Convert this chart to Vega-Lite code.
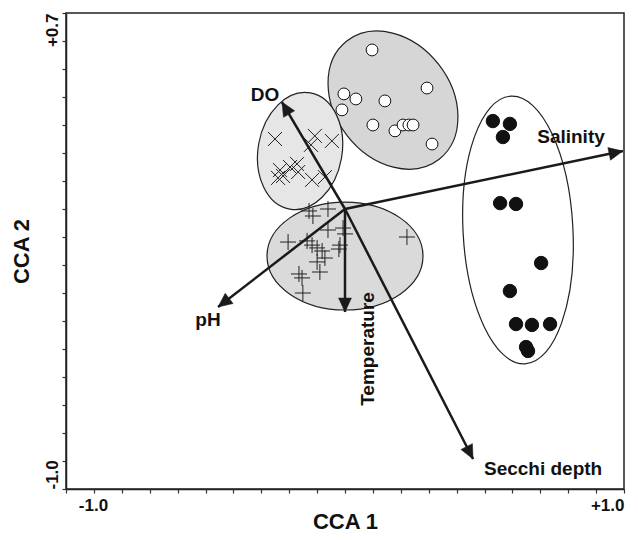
{
  "$schema": "https://vega.github.io/schema/vega-lite/v6.json",
  "width": 558,
  "height": 476,
  "autosize": "none",
  "padding": {"left": 66, "top": 13, "right": 14, "bottom": 51},
  "background": "white",
  "config": {"view": {"stroke": "#222", "strokeWidth": 1.5}, "font": "Liberation Sans"},
  "datasets": {
    "ellipses": [
      {"group": "A", "x": 0.172, "y": 0.389},
      {"group": "B", "x": -0.161, "y": 0.207},
      {"group": "C", "x": 0.0, "y": -0.168},
      {"group": "D", "x": 0.62, "y": -0.075}
    ],
    "sites": [
      {"group": "open", "x": 0.097, "y": 0.568},
      {"group": "open", "x": 0.294, "y": 0.432},
      {"group": "open", "x": -0.004, "y": 0.411},
      {"group": "open", "x": 0.039, "y": 0.393},
      {"group": "open", "x": 0.143, "y": 0.386},
      {"group": "open", "x": -0.011, "y": 0.354},
      {"group": "open", "x": 0.1, "y": 0.3},
      {"group": "open", "x": 0.179, "y": 0.279},
      {"group": "open", "x": 0.208, "y": 0.3},
      {"group": "open", "x": 0.229, "y": 0.3},
      {"group": "open", "x": 0.244, "y": 0.3},
      {"group": "open", "x": 0.312, "y": 0.232},
      {"group": "filled", "x": 0.53, "y": 0.314},
      {"group": "filled", "x": 0.591, "y": 0.304},
      {"group": "filled", "x": 0.566, "y": 0.257},
      {"group": "filled", "x": 0.556, "y": 0.021},
      {"group": "filled", "x": 0.613, "y": 0.018},
      {"group": "filled", "x": 0.703, "y": -0.193},
      {"group": "filled", "x": 0.591, "y": -0.293},
      {"group": "filled", "x": 0.613, "y": -0.411},
      {"group": "filled", "x": 0.67, "y": -0.414},
      {"group": "filled", "x": 0.735, "y": -0.411},
      {"group": "filled", "x": 0.649, "y": -0.493},
      {"group": "filled", "x": 0.656, "y": -0.507},
      {"group": "cross", "x": -0.251, "y": 0.25},
      {"group": "cross", "x": -0.108, "y": 0.261},
      {"group": "cross", "x": -0.122, "y": 0.229},
      {"group": "cross", "x": -0.047, "y": 0.243},
      {"group": "cross", "x": -0.233, "y": 0.139},
      {"group": "cross", "x": -0.197, "y": 0.15},
      {"group": "cross", "x": -0.172, "y": 0.161},
      {"group": "cross", "x": -0.168, "y": 0.132},
      {"group": "cross", "x": -0.24, "y": 0.111},
      {"group": "cross", "x": -0.222, "y": 0.118},
      {"group": "cross", "x": -0.118, "y": 0.104},
      {"group": "cross", "x": -0.072, "y": 0.114},
      {"group": "plus", "x": -0.129, "y": -0.007},
      {"group": "plus", "x": -0.061, "y": 0.0},
      {"group": "plus", "x": -0.115, "y": -0.025},
      {"group": "plus", "x": -0.061, "y": -0.075},
      {"group": "plus", "x": -0.007, "y": -0.068},
      {"group": "plus", "x": 0.0, "y": -0.089},
      {"group": "plus", "x": -0.204, "y": -0.118},
      {"group": "plus", "x": -0.136, "y": -0.114},
      {"group": "plus", "x": -0.118, "y": -0.129},
      {"group": "plus", "x": -0.1, "y": -0.139},
      {"group": "plus", "x": -0.082, "y": -0.15},
      {"group": "plus", "x": -0.072, "y": -0.175},
      {"group": "plus", "x": -0.018, "y": -0.129},
      {"group": "plus", "x": -0.022, "y": -0.143},
      {"group": "plus", "x": -0.1, "y": -0.189},
      {"group": "plus", "x": -0.09, "y": -0.225},
      {"group": "plus", "x": 0.222, "y": -0.1},
      {"group": "plus", "x": -0.165, "y": -0.232},
      {"group": "plus", "x": -0.154, "y": -0.246},
      {"group": "plus", "x": -0.151, "y": -0.3}
    ],
    "vectors": [
      {"var": "DO", "x": -0.226, "y": 0.382},
      {"var": "Salinity", "x": 0.996, "y": 0.207},
      {"var": "pH", "x": -0.455, "y": -0.35},
      {"var": "Temperature", "x": 0.0, "y": -0.368},
      {"var": "Secchi depth", "x": 0.459, "y": -0.893}
    ],
    "labels": [
      {"var": "DO", "x": -0.287, "y": 0.407},
      {"var": "Salinity", "x": 0.81, "y": 0.257},
      {"var": "pH", "x": -0.491, "y": -0.396},
      {"var": "Secchi depth", "x": 0.71, "y": -0.929}
    ],
    "vlabels": [
      {"var": "Temperature", "x": 0.082, "y": -0.5}
    ]
  },
  "layer": [
    {
      "data": {"name": "ellipses"},
      "transform": [{"filter": "datum.group == 'A'"}],
      "mark": {"type": "point", "shape": "M-1,0C-1,-0.427,-0.552,-0.773,0,-0.773C0.552,-0.773,1,-0.427,1,0C1,0.427,0.552,0.773,0,0.773C-0.552,0.773,-1,0.427,-1,0Z", "size": 22500, "angle": 52, "filled": true, "fill": "#d6d6d6", "stroke": "#222", "strokeWidth": 1.2, "opacity": 1},
      "encoding": {
        "x": {"field": "x", "type": "quantitative", "scale": {"domain": [-1, 1], "nice": false, "zero": false},
          "axis": {
            "values": [-1, -0.9, -0.8, -0.7, -0.6, -0.5, -0.4, -0.3, -0.2, -0.1, 0, 0.1, 0.2, 0.3, 0.4, 0.5, 0.6, 0.7, 0.8, 0.9, 1],
            "tickCount": 100,
            "labelExpr": "datum.value == -1 ? '-1.0' : (datum.value == 1 ? '+1.0' : '')",
            "labelAlign": {"condition": {"test": "datum.value < 0", "value": "center"}, "value": "right"},
            "labelOffset": {"condition": {"test": "datum.value < 0", "value": 27}, "value": 0},
            "labelFontSize": 17, "labelFontWeight": "bold", "labelColor": "#111", "labelFont": "Liberation Sans",
            "labelPadding": 4, "labelFlush": false, "labelOverlap": false, "labelBound": false,
            "tickSize": 4, "tickColor": "#333", "tickWidth": 1.2, "domainColor": "#222", "domainWidth": 1.5, "grid": false,
            "title": "CCA 1", "titleFontSize": 22, "titleFontWeight": "bold", "titleColor": "#111", "titleFont": "Liberation Sans",
            "titleBaseline": "alphabetic", "titleY": 39
          }},
        "y": {"field": "y", "type": "quantitative", "scale": {"domain": [-1, 0.7], "nice": false, "zero": false},
          "axis": {
            "values": [-1, -0.9, -0.8, -0.7, -0.6, -0.5, -0.4, -0.3, -0.2, -0.1, 0, 0.1, 0.2, 0.3, 0.4, 0.5, 0.6, 0.7],
            "tickCount": 100,
            "labelExpr": "datum.value == 0.7 ? '+0.7' : (datum.value == -1 ? '-1.0' : '')",
            "labelAngle": -90,
            "labelAlign": {"condition": {"test": "datum.value > 0", "value": "right"}, "value": "left"},
            "labelBaseline": "alphabetic",
            "labelFontSize": 17, "labelFontWeight": "bold", "labelColor": "#111", "labelFont": "Liberation Sans",
            "labelPadding": 5, "labelFlush": false, "labelOverlap": false, "labelBound": false,
            "tickSize": 4, "tickColor": "#333", "tickWidth": 1.2, "domainColor": "#222", "domainWidth": 1.5, "grid": false,
            "title": "CCA 2", "titleFontSize": 22, "titleFontWeight": "bold", "titleColor": "#111", "titleFont": "Liberation Sans", "titlePadding": 10
          }}
      }
    },
    {
      "data": {"name": "ellipses"},
      "transform": [{"filter": "datum.group == 'B'"}],
      "mark": {"type": "point", "shape": "M-1,0C-1,-0.393,-0.552,-0.712,0,-0.712C0.552,-0.712,1,-0.393,1,0C1,0.393,0.552,0.712,0,0.712C-0.552,0.712,-1,0.393,-1,0Z", "size": 13924, "angle": 100, "filled": true, "fill": "#e6e6e6", "stroke": "#222", "strokeWidth": 1.2, "opacity": 1},
      "encoding": {
        "x": {"field": "x", "type": "quantitative", "scale": {"domain": [-1, 1], "nice": false, "zero": false}},
        "y": {"field": "y", "type": "quantitative", "scale": {"domain": [-1, 0.7], "nice": false, "zero": false}}
      }
    },
    {
      "data": {"name": "ellipses"},
      "transform": [{"filter": "datum.group == 'C'"}],
      "mark": {"type": "point", "shape": "M-1,0C-1,-0.382,-0.552,-0.692,0,-0.692C0.552,-0.692,1,-0.382,1,0C1,0.382,0.552,0.692,0,0.692C-0.552,0.692,-1,0.382,-1,0Z", "size": 24336, "angle": 0, "filled": true, "fill": "#dadada", "stroke": "#222", "strokeWidth": 1.2, "opacity": 1},
      "encoding": {
        "x": {"field": "x", "type": "quantitative", "scale": {"domain": [-1, 1], "nice": false, "zero": false}},
        "y": {"field": "y", "type": "quantitative", "scale": {"domain": [-1, 0.7], "nice": false, "zero": false}}
      }
    },
    {
      "data": {"name": "ellipses"},
      "transform": [{"filter": "datum.group == 'D'"}],
      "mark": {"type": "point", "shape": "M-1,0C-1,-0.226,-0.552,-0.41,0,-0.41C0.552,-0.41,1,-0.226,1,0C1,0.226,0.552,0.41,0,0.41C-0.552,0.41,-1,0.226,-1,0Z", "size": 71824, "angle": 87, "filled": true, "fill": "white", "stroke": "#222", "strokeWidth": 1.2, "opacity": 1},
      "encoding": {
        "x": {"field": "x", "type": "quantitative", "scale": {"domain": [-1, 1], "nice": false, "zero": false}},
        "y": {"field": "y", "type": "quantitative", "scale": {"domain": [-1, 0.7], "nice": false, "zero": false}}
      }
    },
    {
      "mark": {"type": "rule", "strokeDash": [2, 3], "color": "#444", "strokeWidth": 1.3},
      "encoding": {"y": {"datum": 0, "type": "quantitative", "scale": {"domain": [-1, 0.7], "nice": false, "zero": false}}}
    },
    {
      "mark": {"type": "rule", "strokeDash": [2, 3], "color": "#444", "strokeWidth": 1.3},
      "encoding": {"x": {"datum": 0, "type": "quantitative", "scale": {"domain": [-1, 1], "nice": false, "zero": false}}}
    },
    {
      "data": {"name": "sites"},
      "transform": [{"filter": "datum.group == 'open'"}],
      "mark": {"type": "point", "shape": "circle", "size": 140, "filled": true, "fill": "white", "stroke": "#111", "strokeWidth": 1, "opacity": 1},
      "encoding": {
        "x": {"field": "x", "type": "quantitative", "scale": {"domain": [-1, 1], "nice": false, "zero": false}},
        "y": {"field": "y", "type": "quantitative", "scale": {"domain": [-1, 0.7], "nice": false, "zero": false}}
      }
    },
    {
      "data": {"name": "sites"},
      "transform": [{"filter": "datum.group == 'filled'"}],
      "mark": {"type": "point", "shape": "circle", "size": 180, "filled": true, "fill": "#111", "stroke": "#111", "strokeWidth": 1, "opacity": 1},
      "encoding": {
        "x": {"field": "x", "type": "quantitative", "scale": {"domain": [-1, 1], "nice": false, "zero": false}},
        "y": {"field": "y", "type": "quantitative", "scale": {"domain": [-1, 0.7], "nice": false, "zero": false}}
      }
    },
    {
      "data": {"name": "sites"},
      "transform": [{"filter": "datum.group == 'cross'"}],
      "mark": {"type": "point", "shape": "M-1,-1L1,1M-1,1L1,-1", "size": 196, "filled": false, "stroke": "#222", "strokeWidth": 1, "opacity": 1},
      "encoding": {
        "x": {"field": "x", "type": "quantitative", "scale": {"domain": [-1, 1], "nice": false, "zero": false}},
        "y": {"field": "y", "type": "quantitative", "scale": {"domain": [-1, 0.7], "nice": false, "zero": false}}
      }
    },
    {
      "data": {"name": "sites"},
      "transform": [{"filter": "datum.group == 'plus'"}],
      "mark": {"type": "point", "shape": "M-1,0L1,0M0,-1L0,1", "size": 256, "filled": false, "stroke": "#222", "strokeWidth": 1, "opacity": 1},
      "encoding": {
        "x": {"field": "x", "type": "quantitative", "scale": {"domain": [-1, 1], "nice": false, "zero": false}},
        "y": {"field": "y", "type": "quantitative", "scale": {"domain": [-1, 0.7], "nice": false, "zero": false}}
      }
    },
    {
      "data": {"name": "vectors"},
      "mark": {"type": "rule", "color": "#1a1a1a", "strokeWidth": 2.5},
      "encoding": {
        "x": {"field": "x", "type": "quantitative", "scale": {"domain": [-1, 1], "nice": false, "zero": false}},
        "y": {"field": "y", "type": "quantitative", "scale": {"domain": [-1, 0.7], "nice": false, "zero": false}},
        "x2": {"datum": 0},
        "y2": {"datum": 0}
      }
    },
    {
      "data": {"name": "vectors"},
      "transform": [{"calculate": "atan2(datum.x * 279, datum.y * 280) * 180 / PI", "as": "ang"}],
      "mark": {"type": "point", "shape": "M0,0L-0.46,1L0.46,1Z", "size": 784, "filled": true, "fill": "#1a1a1a", "stroke": "#1a1a1a", "strokeWidth": 0.5, "opacity": 1},
      "encoding": {
        "x": {"field": "x", "type": "quantitative", "scale": {"domain": [-1, 1], "nice": false, "zero": false}},
        "y": {"field": "y", "type": "quantitative", "scale": {"domain": [-1, 0.7], "nice": false, "zero": false}},
        "angle": {"field": "ang", "type": "quantitative", "scale": null}
      }
    },
    {
      "data": {"name": "labels"},
      "mark": {"type": "text", "font": "Liberation Sans", "fontWeight": "bold", "fontSize": 19, "color": "#111", "align": "center", "baseline": "middle"},
      "encoding": {
        "x": {"field": "x", "type": "quantitative", "scale": {"domain": [-1, 1], "nice": false, "zero": false}},
        "y": {"field": "y", "type": "quantitative", "scale": {"domain": [-1, 0.7], "nice": false, "zero": false}},
        "text": {"field": "var"}
      }
    },
    {
      "data": {"name": "vlabels"},
      "mark": {"type": "text", "font": "Liberation Sans", "fontWeight": "bold", "fontSize": 19, "color": "#111", "align": "center", "baseline": "middle", "angle": -90},
      "encoding": {
        "x": {"field": "x", "type": "quantitative", "scale": {"domain": [-1, 1], "nice": false, "zero": false}},
        "y": {"field": "y", "type": "quantitative", "scale": {"domain": [-1, 0.7], "nice": false, "zero": false}},
        "text": {"field": "var"}
      }
    }
  ]
}
